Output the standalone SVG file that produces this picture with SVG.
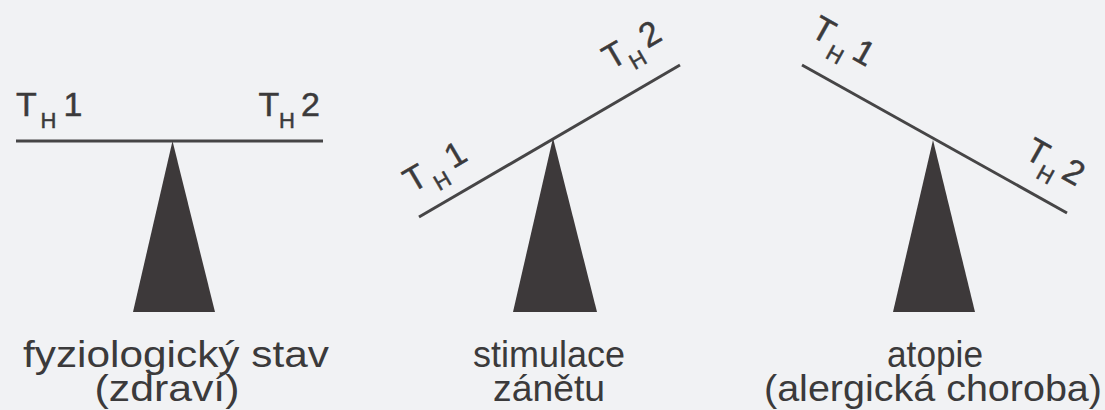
<svg xmlns="http://www.w3.org/2000/svg" width="1105" height="410" viewBox="0 0 1105 410">
<style>
.bg{fill:#f1f2f4}
.beam{stroke:#464546;stroke-width:3;stroke-linecap:butt;fill:none}
.fulcrum{fill:#3d393a}
.t{font-family:"Liberation Sans",Arial,sans-serif;fill:#3b3a3b;stroke:#3b3a3b;stroke-width:0.5}
.big{font-size:34px}
.sub{font-size:22px}
.cap{font-family:"Liberation Sans",Arial,sans-serif;font-size:37px;fill:#3b3a3b;text-anchor:middle}
</style>
<defs>
<g id="th1"><text class="t big" x="0" y="0" text-anchor="middle">T</text><text class="t sub" x="14" y="12">H</text><text class="t big" x="37" y="0">1</text></g>
<g id="th2"><text class="t big" x="0" y="0" text-anchor="middle">T</text><text class="t sub" x="10" y="12">H</text><text class="t big" x="32" y="0">2</text></g>
</defs>
<rect class="bg" x="0" y="0" width="1105" height="410"/>
<g id="connectors">
<line class="beam" x1="16" y1="141" x2="323" y2="141"/>
<line class="beam" x1="419" y1="217" x2="680" y2="65"/>
<line class="beam" x1="802" y1="65" x2="1067" y2="213"/>
</g>
<g id="balance-healthy">
<polygon class="fulcrum" points="172.5,141 133,312 215,312"/>
<use href="#th1" transform="translate(26.5,116)"/>
<use href="#th2" transform="translate(269,116)"/>
<text class="cap" x="176" y="367" textLength="306" lengthAdjust="spacingAndGlyphs">fyziologický stav</text>
<text class="cap" x="167" y="401" textLength="145" lengthAdjust="spacingAndGlyphs">(zdraví)</text>
</g>
<g id="balance-inflammation">
<polygon class="fulcrum" points="553,138 513,312 597,312"/>
<use href="#th1" transform="translate(421,188) rotate(-30.4)"/>
<use href="#th2" transform="translate(620,65) rotate(-30.4)"/>
<text class="cap" x="549" y="367" textLength="152" lengthAdjust="spacingAndGlyphs">stimulace</text>
<text class="cap" x="549" y="401" textLength="112" lengthAdjust="spacingAndGlyphs">zánětu</text>
</g>
<g id="balance-atopy">
<polygon class="fulcrum" points="933,140 893,312 975,312"/>
<use href="#th1" transform="translate(818,40) rotate(29.2)"/>
<use href="#th2" transform="translate(1032,162) rotate(29.2)"/>
<text class="cap" x="935" y="367" textLength="96" lengthAdjust="spacingAndGlyphs">atopie</text>
<text class="cap" x="933" y="401" textLength="338" lengthAdjust="spacingAndGlyphs">(alergická choroba)</text>
</g>
</svg>
